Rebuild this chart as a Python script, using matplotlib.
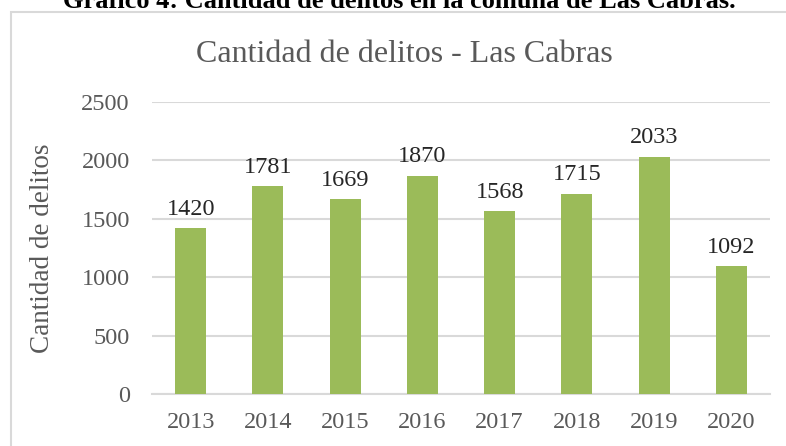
import matplotlib.pyplot as plt
from matplotlib.patches import Rectangle
import numpy as np

years = ['2013', '2014', '2015', '2016', '2017', '2018', '2019', '2020']
delitos = [1420, 1781, 1669, 1870, 1568, 1715, 2033, 1092]

plt.rcParams['font.family'] = ['Liberation Serif', 'DejaVu Serif']
grey = '#595959'

W, H = 786, 446
fig = plt.figure(figsize=(W / 100, H / 100), dpi=100)

# chart border
fig.patches.append(Rectangle((11 / W, -0.05), 1.0, 1 - 12 / H + 0.05,
                             transform=fig.transFigure, fill=False,
                             edgecolor='#D9D9D9', linewidth=1.5))

ax = fig.add_axes([152 / W, 1 - 394 / H, (770 - 152) / W, (394 - 102) / H])
x = np.arange(len(years))
bars = ax.bar(x, delitos, width=0.4, color='#9BBB59', zorder=3)
for xi, v in zip(x, delitos):
    ax.annotate(str(v), (xi, v), xytext=(0, 6), textcoords='offset points',
                ha='center', va='bottom', fontsize=17.5, color='#262626')

ax.set_xlim(-0.5, len(years) - 0.5)
ax.set_ylim(0, 2500)
ax.set_yticks(range(0, 2501, 500))
ax.set_xticks(x)
ax.set_xticklabels(years)
ax.yaxis.grid(True, color='#D9D9D9', linewidth=1.5, zorder=0)
for s in ['top', 'right', 'left']:
    ax.spines[s].set_visible(False)
ax.spines['bottom'].set_color('#D9D9D9')
ax.spines['bottom'].set_linewidth(1.5)
ax.tick_params(length=0, labelsize=17.5, colors=grey)
ax.tick_params(axis='x', pad=13)
ax.tick_params(axis='y', pad=16)
ax.set_ylabel('Cantidad de delitos', fontsize=19.5, color=grey)
ax.yaxis.set_label_coords(-(152 - 55) / (770 - 152), 0.5)

fig.text(404 / W, 1 - 55 / H, 'Cantidad de delitos - Las Cabras', ha='center', va='center',
         fontsize=23, color=grey)
fig.text(399 / W, 1 - 8 / H, 'Gráfico 4: Cantidad de delitos en la comuna de Las Cabras.',
         ha='center', va='baseline', fontsize=19, fontweight='bold', color='black')

fig.savefig('out.png', dpi=100)
